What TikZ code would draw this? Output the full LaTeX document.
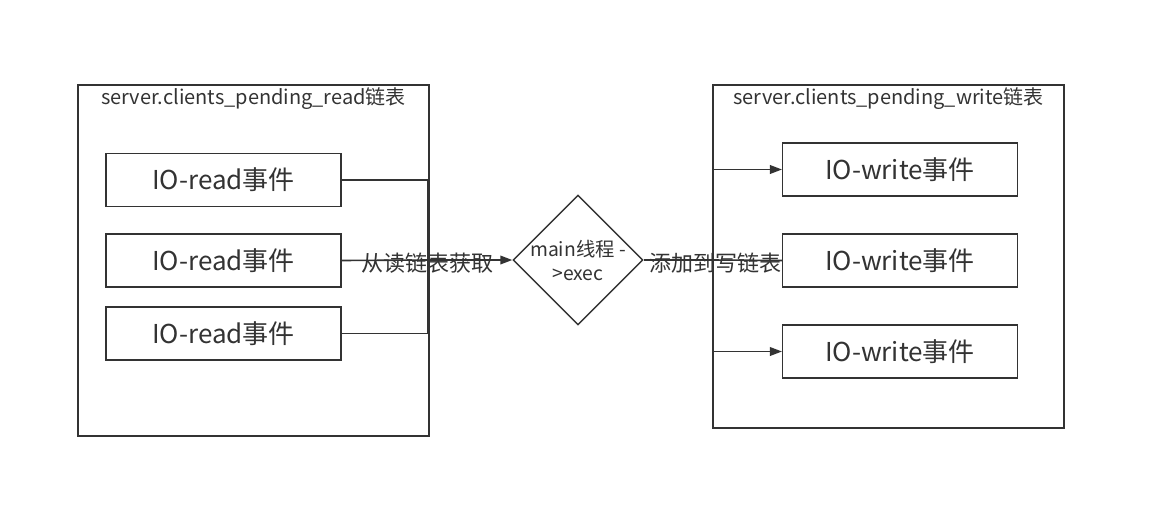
\documentclass[tikz,border=0pt]{standalone}
\usepackage{fontspec}
\setmainfont{Noto Sans CJK SC}
\usetikzlibrary{arrows.meta,shapes.geometric}
\definecolor{ln}{HTML}{333333}
\tikzset{
  cont/.style={draw=ln,line width=1.1pt,minimum width=263pt,inner sep=0pt},
  evbox/.style={draw=ln,line width=1.1pt,minimum width=176pt,minimum height=40pt,inner sep=0pt,font=\fontsize{19.5}{22}\selectfont,text=ln},
  ttl/.style={font=\fontsize{15}{17}\selectfont,text=ln,inner sep=0pt},
  conn/.style={draw=ln,line width=1.2pt},
  arr/.style={conn,-{Triangle[length=9pt,width=6.5pt]}},
  lbl/.style={font=\fontsize{16.5}{19}\selectfont,text=ln,inner sep=0pt},
  dia/.style={diamond,draw=ln,line width=1.1pt,minimum width=97.5pt,minimum height=97.5pt,inner sep=-6pt,aspect=1,align=center,font=\fontsize{14.5}{18}\selectfont,text=ln}
}
\begin{document}
\begin{tikzpicture}[x=0.75pt,y=-0.75pt]
\useasboundingbox (0,0) rectangle (1152,518);
% containers
\node[cont,minimum height=263.25pt] (lc) at (253.5,260.5) {};
\node[cont,minimum height=257.25pt] (rc) at (888.5,256.5) {};
\node[ttl] (lt) at (253.5,99) {server.clients\_pending\_read链表};
\node[ttl] (rt) at (888.5,99) {server.clients\_pending\_write链表};
% read boxes
\node[evbox] (r1) at (223.5,180) {IO-read事件};
\node[evbox] (r2) at (223.5,260.5) {IO-read事件};
\node[evbox] (r3) at (223.5,333.5) {IO-read事件};
% write boxes
\node[evbox] (w1) at (900,169.5) {IO-write事件};
\node[evbox] (w2) at (900,260.5) {IO-write事件};
\node[evbox] (w3) at (900,351.5) {IO-write事件};
% diamond
\node[dia] (d) at (578,260) {main线程 -\\>exec};
% junctions
\coordinate (jl) at (428,260);
\coordinate (jr) at (713,260);
\draw[conn] (r1.east) -| (jl);
\draw[conn] (r3.east) -| (jl);
\draw[conn] (r2.east) -- (jl);
\draw[arr] (jl) -- (d.west);
\draw[conn] (d.east) -- (jr);
\draw[arr] (jr) |- (w1.west);
\draw[arr] (jr) |- (w3.west);
\draw[conn] (jr) -- (w2.west);
\node[lbl] (l1) at (427,263) {从读链表获取};
\node[lbl] (l2) at (715,263) {添加到写链表};
\end{tikzpicture}
\end{document}
